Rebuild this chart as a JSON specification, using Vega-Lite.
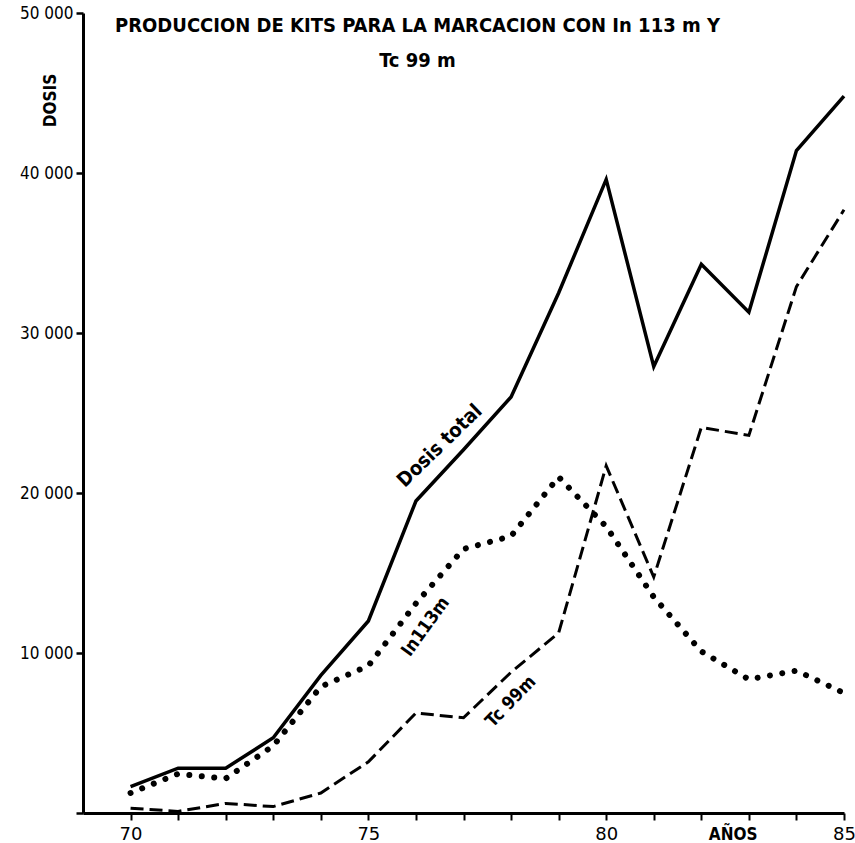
{
  "$schema": "https://vega.github.io/schema/vega-lite/v6.json",
  "width": 761,
  "height": 800,
  "autosize": {"type": "none"},
  "padding": {"left": 83, "top": 13, "right": 11, "bottom": 30},
  "background": "white",
  "title": {
    "text": ["PRODUCCION DE KITS PARA LA MARCACION CON In 113 m  Y", "Tc 99 m"],
    "font": "DejaVu Sans Condensed",
    "fontWeight": "bold",
    "fontSize": 20,
    "anchor": "middle",
    "dx": -46,
    "dy": 67,
    "offset": 0,
    "lineHeight": 35,
    "color": "black"
  },
  "config": {
    "view": {"stroke": null},
    "axis": {
      "grid": false,
      "domainColor": "black",
      "tickColor": "black",
      "labelColor": "black",
      "titleColor": "black",
      "labelFont": "DejaVu Sans Condensed",
      "titleFont": "DejaVu Sans Condensed"
    }
  },
  "datasets": {
    "series": [
      {"series": "Dosis total", "year": 70, "value": 1650},
      {"series": "Dosis total", "year": 71, "value": 2800},
      {"series": "Dosis total", "year": 72, "value": 2800},
      {"series": "Dosis total", "year": 73, "value": 4700},
      {"series": "Dosis total", "year": 74, "value": 8600},
      {"series": "Dosis total", "year": 75, "value": 12000},
      {"series": "Dosis total", "year": 76, "value": 19500},
      {"series": "Dosis total", "year": 77, "value": 22700},
      {"series": "Dosis total", "year": 78, "value": 26000},
      {"series": "Dosis total", "year": 79, "value": 32500},
      {"series": "Dosis total", "year": 80, "value": 39600},
      {"series": "Dosis total", "year": 81, "value": 27900},
      {"series": "Dosis total", "year": 82, "value": 34300},
      {"series": "Dosis total", "year": 83, "value": 31300},
      {"series": "Dosis total", "year": 84, "value": 41400},
      {"series": "Dosis total", "year": 85, "value": 44800},
      {"series": "In 113m", "year": 70, "value": 1250},
      {"series": "In 113m", "year": 71, "value": 2450},
      {"series": "In 113m", "year": 72, "value": 2150},
      {"series": "In 113m", "year": 73, "value": 4200},
      {"series": "In 113m", "year": 74, "value": 7900},
      {"series": "In 113m", "year": 75, "value": 9200},
      {"series": "In 113m", "year": 76, "value": 13100},
      {"series": "In 113m", "year": 77, "value": 16500},
      {"series": "In 113m", "year": 78, "value": 17300},
      {"series": "In 113m", "year": 79, "value": 21000},
      {"series": "In 113m", "year": 80, "value": 17900},
      {"series": "In 113m", "year": 81, "value": 13500},
      {"series": "In 113m", "year": 82, "value": 10100},
      {"series": "In 113m", "year": 83, "value": 8350},
      {"series": "In 113m", "year": 84, "value": 8900},
      {"series": "In 113m", "year": 85, "value": 7500},
      {"series": "Tc 99m", "year": 70, "value": 300},
      {"series": "Tc 99m", "year": 71, "value": 100},
      {"series": "Tc 99m", "year": 72, "value": 600},
      {"series": "Tc 99m", "year": 73, "value": 400},
      {"series": "Tc 99m", "year": 74, "value": 1250},
      {"series": "Tc 99m", "year": 75, "value": 3200},
      {"series": "Tc 99m", "year": 76, "value": 6250},
      {"series": "Tc 99m", "year": 77, "value": 5950},
      {"series": "Tc 99m", "year": 78, "value": 8800},
      {"series": "Tc 99m", "year": 79, "value": 11250},
      {"series": "Tc 99m", "year": 80, "value": 21700},
      {"series": "Tc 99m", "year": 81, "value": 14750},
      {"series": "Tc 99m", "year": 82, "value": 24100},
      {"series": "Tc 99m", "year": 83, "value": 23600},
      {"series": "Tc 99m", "year": 84, "value": 32900},
      {"series": "Tc 99m", "year": 85, "value": 37700}
    ],
    "notes": [
      {"label": "Dosis total", "year": 76.5, "value": 22940},
      {"label": "In113m", "year": 76.21, "value": 11625},
      {"label": "Tc 99m", "year": 78.0, "value": 6940},
      {"label": "AÑOS", "year": 82.67, "value": -1350}
    ]
  },
  "encoding": {
    "x": {
      "field": "year",
      "type": "quantitative",
      "scale": {"domain": [69, 85], "nice": false, "zero": false},
      "axis": {
        "title": null,
        "values": [70, 71, 72, 73, 74, 75, 76, 77, 78, 79, 80, 81, 82, 83, 84, 85],
        "labelExpr": "datum.value % 5 == 0 ? datum.label : ''",
        "labelFlush": false,
        "labelOverlap": false,
        "labelFont": "DejaVu Sans",
        "tickSize": 7,
        "tickWidth": 2,
        "domainWidth": 3,
        "labelFontSize": 18,
        "labelPadding": 5
      }
    },
    "y": {
      "field": "value",
      "type": "quantitative",
      "scale": {"domain": [0, 50000], "nice": false},
      "axis": {
        "title": "DOSIS",
        "titleFontSize": 17,
        "titleFontWeight": "bold",
        "titleX": -33,
        "titleY": 87,
        "titleAngle": -90,
        "titleAlign": "center",
        "titleBaseline": "middle",
        "values": [0, 10000, 20000, 30000, 40000, 50000],
        "labelExpr": "datum.value == 0 ? '' : replace(format(datum.value, ','), ',', ' ')",
        "labelFlush": false,
        "labelOverlap": false,
        "tickSize": 7,
        "tickWidth": 2.5,
        "domainWidth": 3,
        "labelFontSize": 17,
        "labelPadding": 3
      }
    }
  },
  "layer": [
    {
      "data": {"name": "series"},
      "transform": [{"filter": "datum.series == 'Dosis total'"}],
      "mark": {"type": "line", "color": "black", "strokeWidth": 3.5, "strokeJoin": "miter"}
    },
    {
      "data": {"name": "series"},
      "transform": [{"filter": "datum.series == 'Tc 99m'"}],
      "mark": {"type": "line", "color": "black", "strokeWidth": 3, "strokeDash": [13, 6]}
    },
    {
      "data": {"name": "series"},
      "transform": [{"filter": "datum.series == 'In 113m'"}],
      "mark": {"type": "line", "color": "black", "strokeWidth": 6, "strokeDash": [0.01, 12.5], "strokeCap": "round"}
    },
    {
      "data": {"name": "notes"},
      "transform": [{"filter": "datum.label == 'Dosis total'"}],
      "mark": {"type": "text", "angle": -44, "font": "DejaVu Sans Condensed", "fontWeight": "bold", "fontSize": 20, "align": "center", "baseline": "middle", "color": "black"},
      "encoding": {"text": {"field": "label"}}
    },
    {
      "data": {"name": "notes"},
      "transform": [{"filter": "datum.label == 'In113m'"}],
      "mark": {"type": "text", "angle": -54, "font": "DejaVu Sans Condensed", "fontWeight": "bold", "fontSize": 18, "align": "center", "baseline": "middle", "color": "black"},
      "encoding": {"text": {"field": "label"}}
    },
    {
      "data": {"name": "notes"},
      "transform": [{"filter": "datum.label == 'Tc 99m'"}],
      "mark": {"type": "text", "angle": -46, "font": "DejaVu Sans Condensed", "fontWeight": "bold", "fontSize": 18, "align": "center", "baseline": "middle", "color": "black"},
      "encoding": {"text": {"field": "label"}}
    },
    {
      "data": {"name": "notes"},
      "transform": [{"filter": "datum.label == 'AÑOS'"}],
      "mark": {"type": "text", "font": "DejaVu Sans Condensed", "fontWeight": "bold", "fontSize": 17, "align": "center", "baseline": "middle", "color": "black"},
      "encoding": {"text": {"field": "label"}}
    }
  ]
}
